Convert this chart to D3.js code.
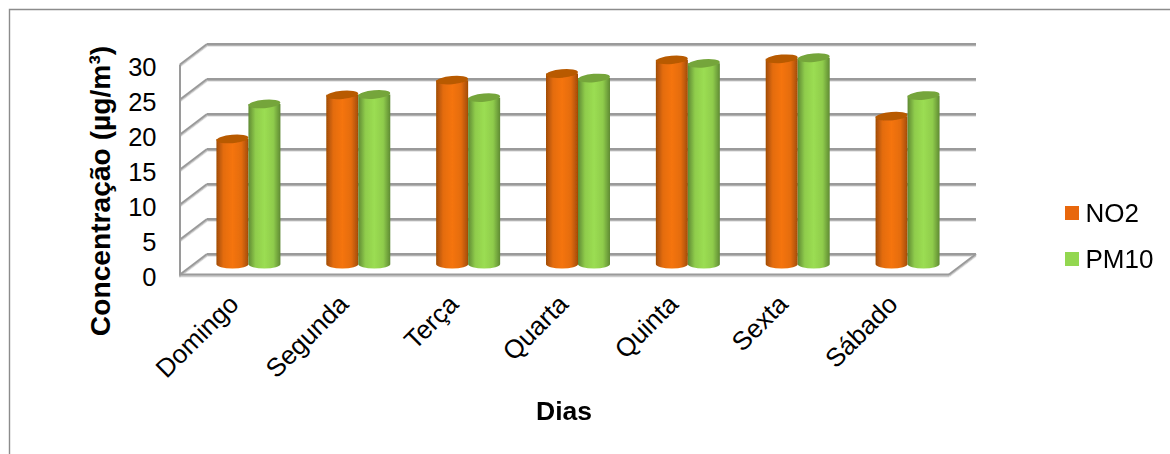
<!DOCTYPE html>
<html>
<head>
<meta charset="utf-8">
<script src="https://cdn.jsdelivr.net/npm/d3@7"></script>
<style>
  html, body { margin: 0; padding: 0; background: #fff; }
  svg { display: block; }
  text { font-family: "Liberation Sans", Arial, sans-serif; fill: #000; }
</style>
</head>
<body>
<svg id="chart" width="1170" height="454"></svg>
<script>
const days = ["Domingo", "Segunda", "Terça", "Quarta", "Quinta", "Sexta", "Sábado"];
const no2 = [17.9, 24.2, 26.3, 27.25, 29.2, 29.35, 21.15];
const pm10 = [22.9, 24.25, 23.8, 26.6, 28.7, 29.5, 24.1];
const seriesNames = ["NO2", "PM10"];
const yTicks = [0, 5, 10, 15, 20, 25, 30];

const svg = d3.select("#chart");
const gridColor = "#9a9a9a";

// Oblique projection: the floor and walls are offset up and to the right by depth
const depthX = 27, depthY = -20.5;
const x0 = 180, x1 = 949;
const y = d3.scaleLinear().domain([0, 30]).range([274.5, 64.5]);
const band = d3.scaleBand().domain(days).range([x0, x1]);
const barDepth = 0.5; // cylinders stand halfway into the floor

// Chart frame
svg.append("path")
  .attr("d", "M9.5,454V9.5H1170")
  .attr("fill", "none").attr("stroke", "#8c8c8c").attr("stroke-width", 1.4);

const defs = svg.append("defs");
const palette = {
  NO2: { edge: "#a14c06", mid: "#f5740a", top: "#b85a06", flat: "#e8670c" },
  PM10: { edge: "#5f8a33", mid: "#9bdd52", top: "#75a53a", flat: "#93d750" }
};
seriesNames.forEach(name => {
  const g = defs.append("linearGradient").attr("id", "cyl-" + name);
  [[0, palette[name].edge], [0.22, "mid0"], [0.5, palette[name].mid], [0.78, "mid0"], [1, palette[name].edge]]
    .forEach(([o, c]) => g.append("stop").attr("offset", o)
      .attr("stop-color", c === "mid0" ? d3.interpolateRgb(palette[name].edge, palette[name].mid)(0.8) : c));
});
const soft = defs.append("filter").attr("id", "soft");
soft.append("feGaussianBlur").attr("stdDeviation", 0.4);
// Gridlines carry a faint shadow just beneath them
const lineShadow = defs.append("filter").attr("id", "lineShadow")
  .attr("filterUnits", "userSpaceOnUse").attr("x", 0).attr("y", 0).attr("width", 1170).attr("height", 454);
lineShadow.append("feDropShadow").attr("dx", 0).attr("dy", 1.3).attr("stdDeviation", 0.6)
  .attr("flood-color", "#000").attr("flood-opacity", 0.3);

// Back wall gridlines, side wall diagonals, floor
const walls = svg.append("g").attr("fill", "none").attr("stroke", gridColor).attr("stroke-width", 2).attr("filter", "url(#lineShadow)");
yTicks.forEach(t => {
  walls.append("line").attr("x1", x0 + depthX).attr("x2", x1 + depthX)
    .attr("y1", y(t) + depthY).attr("y2", y(t) + depthY);
  walls.append("line").attr("x1", x0).attr("x2", x0 + depthX)
    .attr("y1", y(t)).attr("y2", y(t) + depthY);
});
walls.append("line").attr("x1", x0).attr("x2", x0).attr("y1", y(0) + 1).attr("y2", y(30));
walls.append("line").attr("x1", x0 - 1).attr("x2", x1).attr("y1", y(0)).attr("y2", y(0));
walls.append("line").attr("x1", x1).attr("x2", x1 + depthX).attr("y1", y(0)).attr("y2", y(0) + depthY);

// Cylinders
const rx = 16, ry = 4.2;
const bars = svg.append("g").attr("filter", "url(#soft)");
function drawCylinder(cx, value, name) {
  const base = y(0) + depthY * barDepth;
  const top = y(value) + depthY * barDepth;
  bars.append("path")
    .attr("d", `M${cx - rx},${top}V${base}A${rx},${ry} 0 0 0 ${cx + rx},${base}V${top}Z`)
    .attr("fill", `url(#cyl-${name})`);
  bars.append("ellipse")
    .attr("cx", cx).attr("cy", top).attr("rx", rx).attr("ry", ry)
    .attr("transform", `rotate(-5 ${cx} ${top})`)
    .attr("fill", palette[name].top);
}
days.forEach((d, i) => {
  const cx = band(d) + band.bandwidth() / 2 + depthX * barDepth;
  drawCylinder(cx - rx, no2[i], "NO2");
  drawCylinder(cx + rx, pm10[i], "PM10");
});

// Value axis labels
const yAxis = d3.axisLeft(y).tickValues(yTicks).tickSize(0).tickPadding(0);
const yG = svg.append("g").attr("transform", `translate(${x0 - 23.5},3)`).call(yAxis);
yG.select(".domain").remove();
yG.selectAll("text").attr("font-size", 25.5).style("font-family", "'Liberation Sans', Arial, sans-serif");

// Category labels, slanted
days.forEach(d => {
  const cx = band(d) + band.bandwidth() / 2 - 8;
  svg.append("text")
    .attr("transform", `translate(${cx},${292.5}) rotate(-45)`)
    .attr("text-anchor", "end").attr("dy", "0.72em")
    .attr("font-size", 26).text(d);
});

// Axis titles
svg.append("text")
  .attr("transform", "translate(110,191) rotate(-90)")
  .attr("text-anchor", "middle").attr("font-size", 28.2).attr("font-weight", "bold")
  .text("Concentração (µg/m³)");
svg.append("text")
  .attr("x", 564).attr("y", 420).attr("text-anchor", "middle")
  .attr("font-size", 26.5).attr("font-weight", "bold").text("Dias");

// Legend
seriesNames.forEach((name, i) => {
  const ly = 213 + i * 46;
  svg.append("rect").attr("x", 1065).attr("y", ly - 7).attr("width", 14).attr("height", 14)
    .attr("fill", palette[name].flat);
  svg.append("text").attr("x", 1085.5).attr("y", ly + 8.5).attr("font-size", 26).text(name);
});
</script>
</body>
</html>
